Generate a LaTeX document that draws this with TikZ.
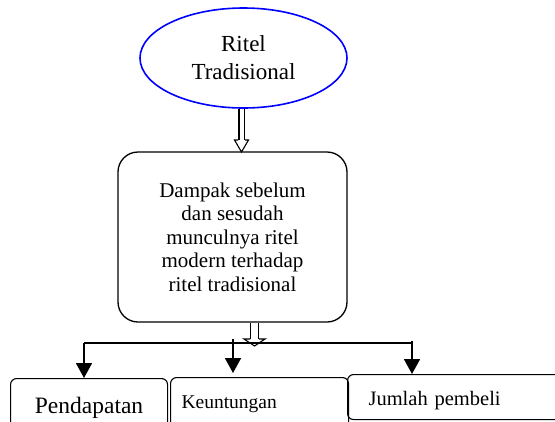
\documentclass[tikz,border=0pt]{standalone}
\usepackage{fontspec}
\setmainfont{Liberation Serif}
\usetikzlibrary{shapes.geometric,arrows.meta,calc}
\tikzset{oval/.style = {draw=blue, line width=1.6pt, ellipse, minimum width=207pt, minimum height=100pt, align=center, font=\fontsize{23}{28}\selectfont},
         bigbox/.style = {draw, line width=1.3pt, rectangle, rounded corners=20pt, minimum width=229pt, minimum height=170pt, align=center, font=\fontsize{21}{23.5}\selectfont},
         outbox/.style = {draw, line width=1.1pt, rectangle, rounded corners=6pt, anchor=north west, inner ysep=0pt},
         hollow/.style = {draw, line width=1.1pt, double, double distance=#1},
         line/.style = {line width=1.8pt},
         arrow/.style = {line width=1.8pt, -{Triangle[width=16pt,length=15pt]}}}

\begin{document}
\begin{tikzpicture}[x=1pt,y=-1pt]
        \useasboundingbox (0,0) rectangle (555,421);
        \node[oval](trad)at(243.5,58){Ritel\\ Tradisional};
        \node[bigbox](dampak)at(232.5,237){Dampak sebelum\\ dan sesudah\\ munculnya ritel\\ modern terhadap\\ ritel tradisional};
        \node[outbox, minimum width=157pt, text height=35pt, text depth=37pt, font=\fontsize{23.5}{26}\selectfont](pend)at(10,378){Pendapatan};
        \node[outbox, inner xsep=11pt, text width=156pt, align=left, text height=31pt, text depth=40pt, font=\fontsize{19.5}{22}\selectfont](keun)at(170,377){Keuntungan};
        \node[outbox, inner xsep=21pt, text width=200pt, align=left, text height=31pt, text depth=14pt, font=\fontsize{20.5}{23}\selectfont](juml)at(347,374){Jumlah pembeli};

        % hollow arrows
        \draw[hollow=4pt]([xshift=-2pt]trad.south)--(241.5,141);
        \draw[line width=1.1pt, fill=white](238,140)--(234.5,140)--(241.5,152)--(248.5,140)--(245,140);
        \draw[hollow=6.5pt]([xshift=22pt]dampak.south)--(254.5,339.5);
        \draw[line width=1.1pt, fill=white](250,339)--(244,339)--(254.5,346)--(265,339)--(259,339);

        \coordinate(busL)at(84,343);
        \coordinate(busM)at(233,339);
        \coordinate(busR)at(412,341);
        \draw[line](busL)--(busR|-busL);
        \draw[arrow](busL)--(busL|-pend.north);
        \draw[arrow](busM)--(233,373);
        \draw[arrow](busR)--(busR|-juml.north);
    \end{tikzpicture}
\end{document}
